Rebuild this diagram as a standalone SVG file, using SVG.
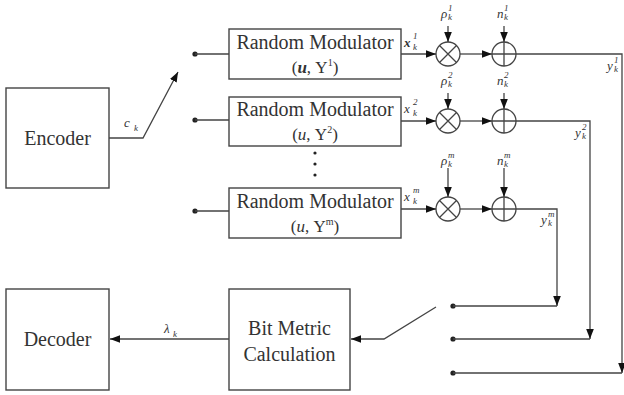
<svg xmlns="http://www.w3.org/2000/svg" width="624" height="395" viewBox="0 0 624 395">
  <style>
    .box { fill: #fff; stroke: #444; stroke-width: 1.4; }
    .wire { fill: none; stroke: #444; stroke-width: 1.3; }
    .op { fill: #fff; stroke: #444; stroke-width: 1.3; }
    .dot { fill: #222; }
    .t { font-family: "Liberation Serif", "Times New Roman", serif; fill: #333; }
    .big { font-size: 20px; }
    .par { font-size: 17px; }
    .sym { font-family: "Liberation Serif", "Times New Roman", serif; font-style: italic; fill: #333; font-size: 13px; }
    .idx { font-family: "Liberation Serif", "Times New Roman", serif; font-style: italic; fill: #333; font-size: 9px; }
  </style>
  <defs>
    <marker id="ah" viewBox="0 0 10 10" refX="10" refY="5" markerWidth="10" markerHeight="10" markerUnits="userSpaceOnUse" orient="auto">
      <path d="M0,1.2 L10,5 L0,8.8 z" fill="#111"/>
    </marker>
  </defs>
  <rect width="624" height="395" fill="#fff"/>

  <!-- blocks -->
  <g id="encoder">
    <rect class="box" x="6" y="88" width="103" height="100"/>
    <text class="t big" x="57.5" y="145" text-anchor="middle">Encoder</text>
  </g>
  <g id="decoder">
    <rect class="box" x="6" y="289" width="103" height="101"/>
    <text class="t big" x="57.5" y="346" text-anchor="middle">Decoder</text>
  </g>
  <g id="bitmetric">
    <rect class="box" x="229" y="289" width="121" height="101"/>
    <text class="t big" x="289.5" y="335" text-anchor="middle">Bit Metric</text>
    <text class="t big" x="289.5" y="361" text-anchor="middle">Calculation</text>
  </g>
  <g id="mod1">
    <rect class="box" x="229" y="29" width="172" height="50"/>
    <text class="t big" x="315" y="49" text-anchor="middle">Random Modulator</text>
    <text class="t par" x="315" y="73" text-anchor="middle">(<tspan font-style="italic" font-weight="bold">u</tspan>, Υ<tspan font-size="10" dy="-7">1</tspan><tspan dy="7">)</tspan></text>
  </g>
  <g id="mod2">
    <rect class="box" x="229" y="97" width="172" height="49"/>
    <text class="t big" x="315" y="116" text-anchor="middle">Random Modulator</text>
    <text class="t par" x="315" y="140" text-anchor="middle">(<tspan font-style="italic">u</tspan>, Υ<tspan font-size="10" dy="-7">2</tspan><tspan dy="7">)</tspan></text>
  </g>
  <g id="mod3">
    <rect class="box" x="229" y="188" width="172" height="50"/>
    <text class="t big" x="315" y="208" text-anchor="middle">Random Modulator</text>
    <text class="t par" x="315" y="232" text-anchor="middle">(<tspan font-style="italic">u</tspan>, Υ<tspan font-size="10" dy="-7">m</tspan><tspan dy="7">)</tspan></text>
  </g>
  <g id="ellipsis">
    <circle class="dot" cx="315" cy="153" r="1.6"/>
    <circle class="dot" cx="315" cy="164" r="1.6"/>
    <circle class="dot" cx="315" cy="175" r="1.6"/>
  </g>

  <!-- multipliers and adders -->
  <g id="mul1"><circle class="op" cx="448" cy="54" r="12"/><path class="wire" d="M439.5,45.5 L456.5,62.5 M456.5,45.5 L439.5,62.5"/></g>
  <g id="add1"><circle class="op" cx="504" cy="54" r="12"/><path class="wire" d="M492,54 H516 M504,42 V66"/></g>
  <g id="mul2"><circle class="op" cx="448" cy="121" r="12"/><path class="wire" d="M439.5,112.5 L456.5,129.5 M456.5,112.5 L439.5,129.5"/></g>
  <g id="add2"><circle class="op" cx="504" cy="121" r="12"/><path class="wire" d="M492,121 H516 M504,109 V133"/></g>
  <g id="mul3"><circle class="op" cx="448" cy="209" r="12"/><path class="wire" d="M439.5,200.5 L456.5,217.5 M456.5,200.5 L439.5,217.5"/></g>
  <g id="add3"><circle class="op" cx="504" cy="209" r="12"/><path class="wire" d="M492,209 H516 M504,197 V221"/></g>

  <!-- switch contacts -->
  <g id="contacts">
    <circle class="dot" cx="195" cy="54" r="2.6"/>
    <circle class="dot" cx="195" cy="120" r="2.6"/>
    <circle class="dot" cx="195" cy="211" r="2.6"/>
    <circle class="dot" cx="453" cy="306" r="2.6"/>
    <circle class="dot" cx="453" cy="339" r="2.6"/>
    <circle class="dot" cx="453" cy="373" r="2.6"/>
  </g>

  <!-- connectors -->
  <g id="connectors">
    <path class="wire" d="M109,138 H143 L178,72" marker-end="url(#ah)"/>
    <path class="wire" d="M195,54 H229 M195,120 H229 M195,211 H229"/>
    <path class="wire" d="M401,54 H436" marker-end="url(#ah)"/>
    <path class="wire" d="M460,54 H492" marker-end="url(#ah)"/>
    <path class="wire" d="M401,121 H436" marker-end="url(#ah)"/>
    <path class="wire" d="M460,121 H492" marker-end="url(#ah)"/>
    <path class="wire" d="M401,209 H436" marker-end="url(#ah)"/>
    <path class="wire" d="M460,209 H492" marker-end="url(#ah)"/>
    <path class="wire" d="M448,26 V42" marker-end="url(#ah)"/>
    <path class="wire" d="M504,26 V42" marker-end="url(#ah)"/>
    <path class="wire" d="M448,93 V109" marker-end="url(#ah)"/>
    <path class="wire" d="M504,93 V109" marker-end="url(#ah)"/>
    <path class="wire" d="M448,168 V197" marker-end="url(#ah)"/>
    <path class="wire" d="M504,168 V197" marker-end="url(#ah)"/>
    <path class="wire" d="M516,54 H622 V373" marker-end="url(#ah)"/>
    <path class="wire" d="M516,121 H590 V339" marker-end="url(#ah)"/>
    <path class="wire" d="M516,209 H557 V306" marker-end="url(#ah)"/>
    <path class="wire" d="M453,373 H622 M453,339 H590 M453,306 H557"/>
    <path class="wire" d="M436,307 L384,339 H351" marker-end="url(#ah)"/>
    <path class="wire" d="M229,339 H110" marker-end="url(#ah)"/>
  </g>

  <!-- signal labels -->
  <g id="labels">
    <text class="sym" x="124" y="127" font-size="18">c</text><text class="idx" x="134" y="131" font-size="11">k</text>
    <text class="sym" x="164" y="333" font-size="17">λ</text><text class="idx" x="173" y="337">k</text>

    <text class="sym" x="404" y="47" font-weight="bold" font-size="14">x</text><text class="idx" x="413" y="39" font-style="normal">1</text><text class="idx" x="413" y="50">k</text>
    <text class="sym" x="404" y="113" font-size="14">x</text><text class="idx" x="413" y="105" font-style="normal">2</text><text class="idx" x="413" y="116">k</text>
    <text class="sym" x="404" y="201" font-size="14">x</text><text class="idx" x="413" y="193">m</text><text class="idx" x="413" y="204">k</text>

    <text class="sym" x="441" y="18" font-size="12">ρ</text><text class="idx" x="448" y="11" font-size="8" font-style="normal">1</text><text class="idx" x="448" y="20" font-size="8">k</text>
    <text class="sym" x="497" y="18" font-size="12">n</text><text class="idx" x="504" y="11" font-size="8" font-style="normal">1</text><text class="idx" x="504" y="20" font-size="8">k</text>
    <text class="sym" x="441" y="85" font-size="12">ρ</text><text class="idx" x="448" y="78" font-size="8" font-style="normal">2</text><text class="idx" x="448" y="87" font-size="8">k</text>
    <text class="sym" x="497" y="85" font-size="12">n</text><text class="idx" x="504" y="78" font-size="8" font-style="normal">2</text><text class="idx" x="504" y="87" font-size="8">k</text>
    <text class="sym" x="441" y="165" font-size="12">ρ</text><text class="idx" x="448" y="158" font-size="8">m</text><text class="idx" x="448" y="167" font-size="8">k</text>
    <text class="sym" x="497" y="165" font-size="12">n</text><text class="idx" x="504" y="158" font-size="8">m</text><text class="idx" x="504" y="167" font-size="8">k</text>

    <text class="sym" x="607" y="70" font-size="12">y</text><text class="idx" x="614" y="63" font-size="8" font-style="normal">1</text><text class="idx" x="614" y="72" font-size="8">k</text>
    <text class="sym" x="575" y="137" font-size="12">y</text><text class="idx" x="582" y="130" font-size="8" font-style="normal">2</text><text class="idx" x="582" y="139" font-size="8">k</text>
    <text class="sym" x="541" y="224" font-size="12">y</text><text class="idx" x="548" y="217" font-size="8">m</text><text class="idx" x="548" y="226" font-size="8">k</text>
  </g>
</svg>
